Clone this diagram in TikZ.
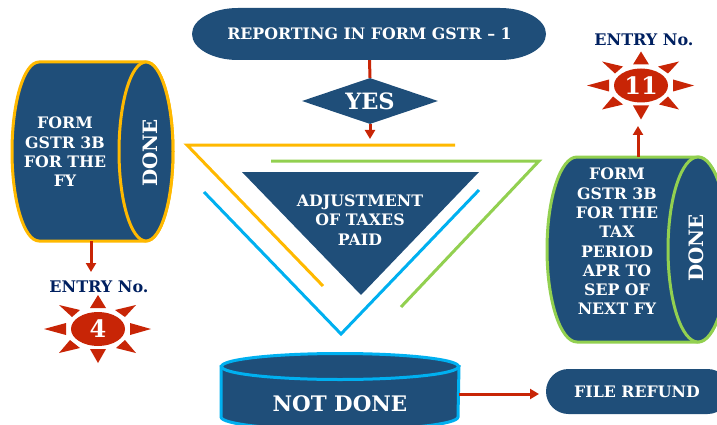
\documentclass[tikz,border=0pt]{standalone}
\usepackage{fontspec}
\setmainfont{DejaVu Serif}
\usetikzlibrary{arrows.meta,shapes.geometric,shapes.misc}

\definecolor{boxfill}{HTML}{1F4E79}
\definecolor{linered}{HTML}{C82506}
\definecolor{lineyellow}{HTML}{FFB900}
\definecolor{linegreen}{HTML}{92D050}
\definecolor{lineblue}{HTML}{00B0F0}
\definecolor{entrynavy}{HTML}{002060}

\tikzset{
	boxtext/.style={text=white,align=center,inner sep=0pt,font=\fontsize{15.8}{19.3}\selectfont\bfseries},
	bigtext/.style={boxtext,font=\fontsize{#1}{24}\selectfont\bfseries},
	flow/.style={draw=linered,line width=3pt,-{Triangle[length=9pt,width=10pt]}},
	drumline/.style={fill=boxfill,line width=3pt},
	drumbox/.style={inner sep=0pt},
	entrylabel/.style={text=entrynavy,inner sep=0pt,font=\fontsize{16}{18}\selectfont\bfseries},
	sunoval/.style={shape=ellipse,fill=linered,text=white,inner sep=0pt,minimum width=54pt,minimum height=34pt,font=\fontsize{24}{26}\selectfont\bfseries},
	sunrays/.pic={
		\foreach \apex/\basea/\baseb in {
			{0,-34}/{-8,-21}/{8,-21},{53,0}/{32,-6}/{32,6},{0,34}/{-8,20}/{8,20},{-54,0}/{-32,-6}/{-32,6},
			{-39,-24}/{-18,-19}/{-26,-12},{38,-24}/{17,-19}/{27,-12},{-39,24}/{-28,11}/{-18,19},{38,24}/{18,19}/{27,11}}
			\fill[linered] (\apex) -- (\basea) -- (\baseb) -- cycle;
	}
}

\begin{document}
\begin{tikzpicture}[x=1pt,y=-1pt]
	\useasboundingbox[clip] (0,0) rectangle (717,425);

	% top pill and diamond
	\fill[boxfill] (238,8) -- (500,8) arc[x radius=46,y radius=26,start angle=-90,end angle=90] -- (238,60) arc[x radius=46,y radius=26,start angle=90,end angle=270] -- cycle;
	\node[boxtext,minimum width=354pt,minimum height=52pt] (reporting) at (369.5,34) {REPORTING IN FORM GSTR -- 1};
	\node[shape=diamond,fill=boxfill,inner sep=0pt,minimum width=136pt,minimum height=46pt,aspect=3,bigtext=22.5] (yes) at (370,101) {YES};
	\coordinate (yesend) at (370,139);
	\draw[draw=linered,line width=3pt] (reporting.south) -- (yes.north);
	\draw[flow] (yes.south) -- (yesend);

	% the three open lines and the triangle
	\draw[lineyellow,line width=3pt] (455,145) -- (187,145) -- (323,286);
	\draw[linegreen,line width=3pt] (271,161) -- (539,161) -- (401,307);
	\draw[lineblue,line width=3pt] (204,192) -- (341,334) -- (479,190);
	\fill[boxfill] (242,172) -- (479,172) -- (361,295) -- cycle;
	\node[boxtext] (adjustment) at (360,220) {ADJUSTMENT\\OF TAXES\\PAID};

	% left drum
	\draw[drumline,draw=lineyellow] (39,62) -- (146,62) arc[x radius=27,y radius=89.5,start angle=-90,end angle=90] -- (39,241) arc[x radius=27,y radius=89.5,start angle=90,end angle=270] -- cycle;
	\draw[drumline,draw=lineyellow] (146,151.5) ellipse[x radius=27,y radius=89.5];
	\node[drumbox,minimum width=163pt,minimum height=179pt] (formfy) at (92.5,151.5) {};
	\node[boxtext] (formfytext) at (65,152) {FORM\\GSTR 3B\\FOR THE\\FY};
	\node[bigtext=19.8,rotate=90] (donefy) at (150,153) {DONE};
	\coordinate (fyend) at (91,272);
	\draw[flow] (formfy.south -| fyend) -- (fyend);
	\node[entrylabel] (entryfour) at (99,287) {ENTRY No.};
	\pic at (98,329) {sunrays};
	\node[sunoval] (sunfour) at (98,329) {4};

	% right drum
	\draw[drumline,draw=linegreen] (577,157) -- (698,157) arc[x radius=30,y radius=92.5,start angle=-90,end angle=90] -- (577,342) arc[x radius=30,y radius=92.5,start angle=90,end angle=270] -- cycle;
	\draw[drumline,draw=linegreen] (698,249.5) ellipse[x radius=30,y radius=92.5];
	\node[drumbox,minimum width=181pt,minimum height=185pt] (formtax) at (637.5,249.5) {};
	\node[boxtext] (formtaxtext) at (617,241.5) {FORM\\GSTR 3B\\FOR THE\\TAX\\PERIOD\\APR TO\\SEP OF\\NEXT FY};
	\node[bigtext=19.8,rotate=90] (donetax) at (696,248) {DONE};
	\coordinate (taxend) at (638,126);
	\draw[flow] (formtax.north -| taxend) -- (taxend);
	\node[entrylabel] (entryeleven) at (644,39.5) {ENTRY No.};
	\pic at (641,85.5) {sunrays};
	\node[sunoval] (suneleven) at (641,85.5) {11};

	% bottom drum and refund
	\draw[drumline,draw=lineblue] (221,366.5) -- (221,417) arc[x radius=118.5,y radius=13,start angle=180,end angle=0] -- (459,366.5) -- cycle;
	\draw[drumline,draw=lineblue] (340,366.5) ellipse[x radius=118.5,y radius=13];
	\node[drumbox,minimum width=238pt,minimum height=77pt] (notdone) at (340,391.5) {};
	\node[bigtext=21.4] (notdonetext) at (340,404) {NOT DONE};
	\node[shape=rounded rectangle,fill=boxfill,minimum width=184pt,minimum height=45pt,inner sep=0pt] (refund) at (638,391.5) {};
	\node[boxtext] (refundtext) at (637,392) {FILE REFUND};
	\coordinate (refundend) at (539,394);
	\draw[flow] (notdone.east |- refundend) -- (refundend);
\end{tikzpicture}
\end{document}
